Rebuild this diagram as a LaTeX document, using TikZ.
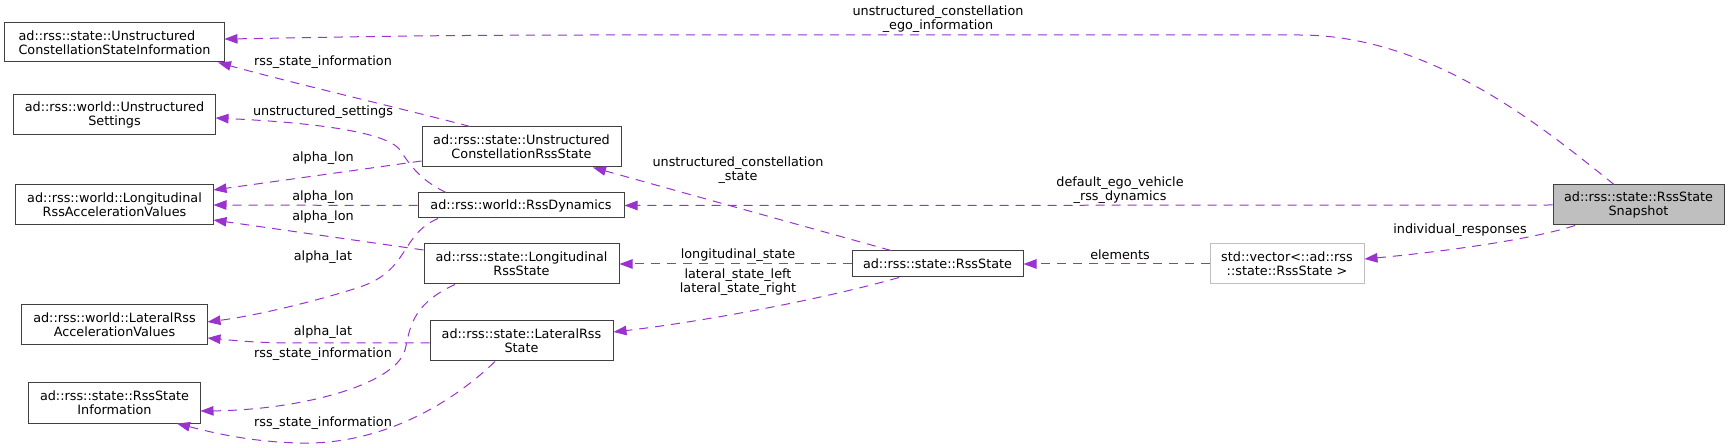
\documentclass[tikz,border=0pt]{standalone}
\usepackage{fontspec}
\setmainfont{DejaVu Sans}
\usetikzlibrary{arrows.meta}
\definecolor{edgec}{HTML}{9A32CD}
\definecolor{boxc}{HTML}{404040}
\definecolor{greyf}{HTML}{BFBFBF}
\tikzset{
  cls/.style={draw=boxc, line width=1bp, fill=white, inner sep=0pt, align=center,
              font=\fontsize{12.8bp}{14bp}\selectfont},
  rel/.style={draw=edgec, line width=1bp, dash pattern=on 9bp off 7bp,
              -{Triangle[length=13bp,width=9.5bp]}},
  lbl/.style={inner sep=0pt, align=center, font=\fontsize{12.8bp}{14bp}\selectfont}
}
\begin{document}
\begin{tikzpicture}[x=1bp,y=-1bp]
\useasboundingbox (0,0) rectangle (1729,448);
% classes
\node[cls, align=left, minimum width=219bp, minimum height=39bp] (ucsi) at (114.5,42.5) {ad::rss::state::Unstructured\\ConstellationStateInformation};
\node[cls, minimum width=201bp, minimum height=40bp] (uset) at (114.5,115) {ad::rss::world::Unstructured\\Settings};
\node[cls, minimum width=197bp, minimum height=40bp] (lrav) at (114.5,205) {ad::rss::world::Longitudinal\\RssAccelerationValues};
\node[cls, minimum width=185bp, minimum height=40bp] (latrav) at (114.5,325) {ad::rss::world::LateralRss\\AccelerationValues};
\node[cls, minimum width=171bp, minimum height=40bp] (rsi) at (114.5,403) {ad::rss::state::RssState\\Information};
\node[cls, minimum width=199bp, minimum height=40bp] (ucrs) at (521.5,147) {ad::rss::state::Unstructured\\ConstellationRssState};
\node[cls, minimum width=206bp, minimum height=25bp] (dyn) at (521,205.5) {ad::rss::world::RssDynamics};
\node[cls, minimum width=195bp, minimum height=40bp] (lrs) at (521.5,264) {ad::rss::state::Longitudinal\\RssState};
\node[cls, minimum width=183bp, minimum height=40bp] (lat) at (521.5,341) {ad::rss::state::LateralRss\\State};
\node[cls, minimum width=171bp, minimum height=26bp] (rs) at (937.5,264) {ad::rss::state::RssState};
\node[cls, draw=greyf, minimum width=154bp, minimum height=40bp] (vec) at (1287,264) {std::vector<::ad::rss\\::state::RssState >};
\node[cls, fill=greyf, minimum width=171bp, minimum height=40bp] (snap) at (1638.5,205) {ad::rss::state::RssState\\Snapshot};
% relations
\draw[rel] ([xshift=-24.5bp]snap.north) .. controls (1540,125) and (1430,35) .. (1299,35) -- (600,35) .. controls (400,35) and (300,38) .. ([yshift=3.5bp]ucsi.east);
\draw[rel] (snap.west) -- (dyn.east);
\draw[rel] ([xshift=-63.5bp]snap.south) .. controls (1530,240) and (1440,252) .. ([yshift=5bp]vec.east);
\draw[rel] (vec.west) -- (rs.east);
\draw[rel] (rs.west) -- (lrs.east);
\draw[rel] ([xshift=-46.5bp]rs.north) -- ([xshift=71.5bp]ucrs.south);
\draw[rel] ([xshift=-38.5bp]rs.south) .. controls (820,300) and (700,322) .. ([yshift=9bp]lat.east);
\draw[rel] ([xshift=-51.5bp]ucrs.north) .. controls (420,113) and (300,85) .. ([xshift=103.5bp]ucsi.south);
\draw[rel] ([yshift=-14bp]ucrs.west) -- ([yshift=15bp]lrav.east);
\draw[rel] (dyn.west) -- (lrav.east);
\draw[rel] ([yshift=14bp]lrs.west) -- ([yshift=-15bp]lrav.east);
\draw[rel] ([xshift=-75bp]dyn.north) .. controls (420,180) and (410,165) .. (400,150) .. controls (385,130) and (300,122) .. ([yshift=-3bp]uset.east);
\draw[rel] ([xshift=-83bp]dyn.south) .. controls (400,235) and (410,270) .. (360,287) .. controls (320,300) and (260,315) .. ([yshift=3bp]latrav.east);
\draw[rel] ([yshift=-2bp]lat.west) -- (300,343) .. controls (260,343) and (240,341) .. ([yshift=-13bp]latrav.east);
\draw[rel] ([xshift=-66.5bp]lrs.south) .. controls (410,305) and (410,330) .. (405,350) .. controls (395,385) and (300,410) .. ([yshift=-8bp]rsi.east);
\draw[rel] ([xshift=-26.5bp]lat.south) .. controls (450,405) and (380,445) .. (300,443) .. controls (250,442) and (210,432) .. ([xshift=62.5bp]rsi.south);
% labels
\node[lbl] (l1) at (938,19.5) {unstructured\_constellation\\\_ego\_information};
\node[lbl] (l2) at (1120,190) {default\_ego\_vehicle\\\_rss\_dynamics};
\node[lbl] (l3) at (1460,230) {individual\_responses};
\node[lbl] (l4) at (1120,255) {elements};
\node[lbl] (l5) at (738,255) {longitudinal\_state};
\node[lbl] (l6) at (738,170) {unstructured\_constellation\\\_state};
\node[lbl] (l7) at (738,282.5) {lateral\_state\_left\\lateral\_state\_right};
\node[lbl] (l8) at (323,62) {rss\_state\_information};
\node[lbl] (l9) at (323,158) {alpha\_lon};
\node[lbl] (l10) at (323,197) {alpha\_lon};
\node[lbl] (l11) at (323,217) {alpha\_lon};
\node[lbl] (l12) at (323,112) {unstructured\_settings};
\node[lbl] (l13) at (323,257) {alpha\_lat};
\node[lbl] (l14) at (323,332) {alpha\_lat};
\node[lbl] (l15) at (323,354) {rss\_state\_information};
\node[lbl] (l16) at (323,423) {rss\_state\_information};
\end{tikzpicture}
\end{document}
